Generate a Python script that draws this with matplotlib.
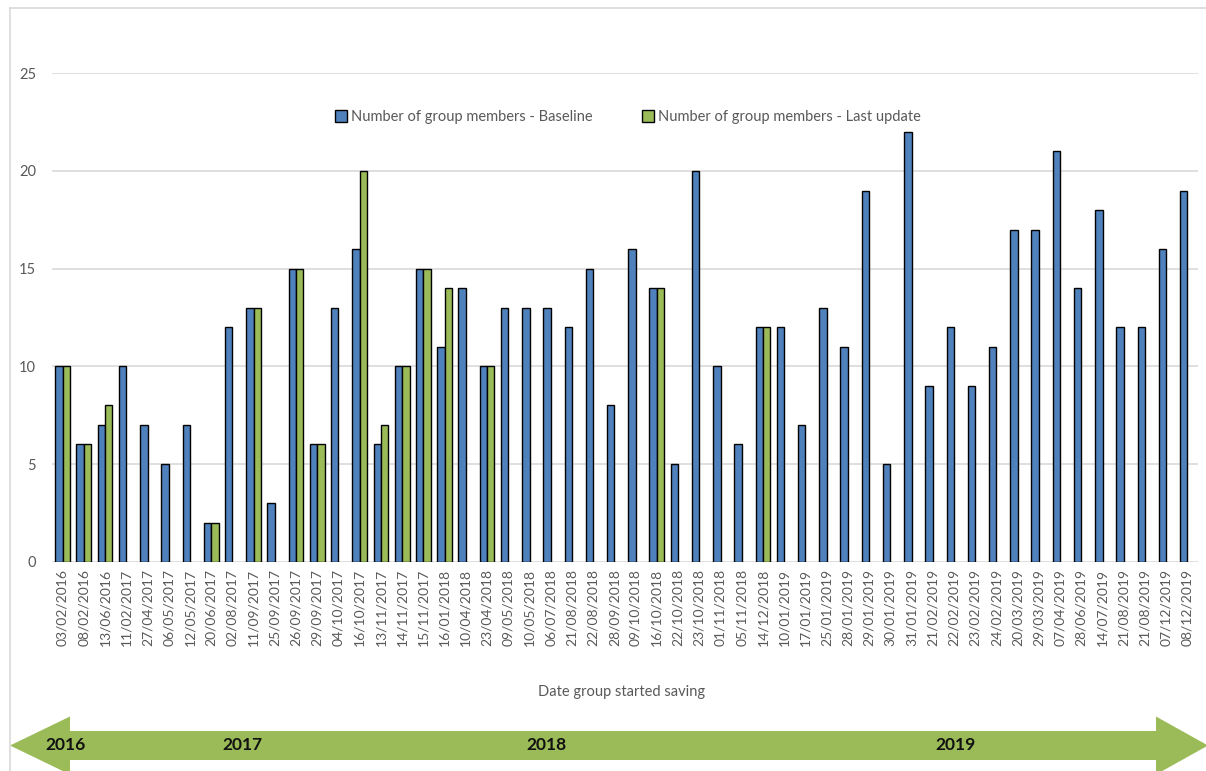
import numpy as np
import matplotlib
matplotlib.use("Agg")
import matplotlib.pyplot as plt
from matplotlib.patches import Polygon

plt.rcParams["font.family"] = ["Lato", "DejaVu Sans"]

dates = [
    "03/02/2016", "08/02/2016", "13/06/2016", "11/02/2017", "27/04/2017",
    "06/05/2017", "12/05/2017", "20/06/2017", "02/08/2017", "11/09/2017",
    "25/09/2017", "26/09/2017", "29/09/2017", "04/10/2017", "16/10/2017",
    "13/11/2017", "14/11/2017", "15/11/2017", "16/01/2018", "10/04/2018",
    "23/04/2018", "09/05/2018", "10/05/2018", "06/07/2018", "21/08/2018",
    "22/08/2018", "28/09/2018", "09/10/2018", "16/10/2018", "22/10/2018",
    "23/10/2018", "01/11/2018", "05/11/2018", "14/12/2018", "10/01/2019",
    "17/01/2019", "25/01/2019", "28/01/2019", "29/01/2019", "30/01/2019",
    "31/01/2019", "21/02/2019", "22/02/2019", "23/02/2019", "24/02/2019",
    "20/03/2019", "29/03/2019", "07/04/2019", "28/06/2019", "14/07/2019",
    "21/08/2019", "21/08/2019", "07/12/2019", "08/12/2019",
]
baseline = [
    10, 6, 7, 10, 7, 5, 7, 2, 12, 13,
    3, 15, 6, 13, 16, 6, 10, 15, 11, 14,
    10, 13, 13, 13, 12, 15, 8, 16, 14, 5,
    20, 10, 6, 12, 12, 7, 13, 11, 19, 5,
    22, 9, 12, 9, 11, 17, 17, 21, 14, 18,
    12, 12, 16, 19,
]
# None = no follow-up count recorded yet
last_update = [
    10, 6, 8, None, None, None, None, 2, None, 13,
    None, 15, 6, None, 20, 7, 10, 15, 14, None,
    10, None, None, None, None, None, None, None, 14, None,
    None, None, None, 12, None, None, None, None, None, None,
    None, None, None, None, None, None, None, None, None, None,
    None, None, None, None,
]
years = ["2016", "2017", "2018", "2019"]

BLUE = "#4F81BD"
GREEN = "#9BBB59"
GREY_TXT = "#595959"
GRID = "#D9D9D9"

W, H = 1206, 771
fig = plt.figure(figsize=(W / 100, H / 100), dpi=100)

# background layer in pixel coordinates: outer frame and the timeline arrow
bg = fig.add_axes([0, 0, 1, 1], zorder=0)
bg.set_xlim(0, W)
bg.set_ylim(H, 0)
bg.axis("off")
bg.plot([10, 10], [8, H], color=GRID, lw=1.2)
bg.plot([10, W], [8, 8], color=GRID, lw=1.2)

cy, shaft, head = 745.5, 14.5, 29
arrow = [
    (10, cy), (70, cy - head), (70, cy - shaft), (1156, cy - shaft),
    (1156, cy - head), (1208, cy), (1156, cy + head), (1156, cy + shaft),
    (70, cy + shaft), (70, cy + head),
]
bg.add_patch(Polygon(arrow, closed=True, facecolor=GREEN, edgecolor="none"))
for yr, xp in zip(years, [66, 242, 546, 955]):
    bg.text(xp, cy, yr, ha="center", va="center", fontsize=12.5,
            fontweight="bold", color="#111111")

ax = fig.add_axes([52 / W, 1 - 561.7 / H, (1198 - 52) / W, (561.7 - 73.3) / H],
                  zorder=1)
ax.patch.set_alpha(0)

x = np.arange(len(dates))
bw = 0.35
ax.bar(x - bw / 2, baseline, width=bw, color=BLUE, edgecolor="black",
       linewidth=1, label="Number of group members - Baseline", zorder=3)
gx = [i for i, v in enumerate(last_update) if v is not None]
gv = [last_update[i] for i in gx]
ax.bar(np.array(gx) + bw / 2, gv, width=bw, color=GREEN, edgecolor="black",
       linewidth=1, label="Number of group members - Last update", zorder=3)

ax.set_xlim(-0.5, len(dates) - 0.5)
ax.set_ylim(0, 25)
ax.set_yticks(range(0, 26, 5))
ax.set_xticks(x)
ax.set_xticklabels(dates, rotation=90, fontsize=10, color=GREY_TXT)
ax.tick_params(axis="y", length=0, pad=11.5, labelsize=10.5, labelcolor=GREY_TXT)
ax.tick_params(axis="x", length=0, pad=5)
ax.grid(axis="y", color=GRID, linewidth=1.2, zorder=0)
for s in ax.spines.values():
    s.set_visible(False)

fig.text(622 / W, 1 - 692 / H, "Date group started saving", ha="center",
         va="center", fontsize=10.5, color=GREY_TXT)

leg = ax.legend(loc="center", bbox_to_anchor=(628 / W, 1 - 117 / H),
                bbox_transform=fig.transFigure, ncol=2, frameon=False,
                fontsize=10.5, handlelength=0.8, handleheight=0.8,
                handletextpad=0.3, columnspacing=3.4)
for t in leg.get_texts():
    t.set_color(GREY_TXT)

fig.savefig("out.png", dpi=100)
